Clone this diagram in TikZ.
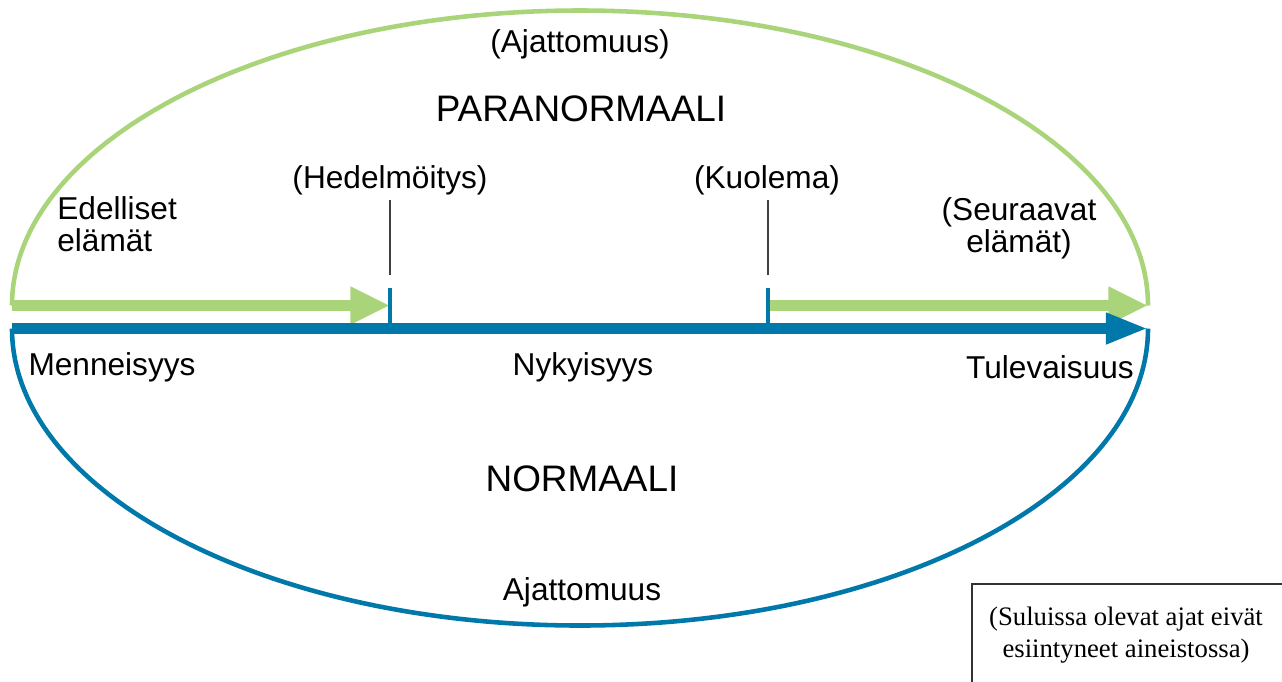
\documentclass[tikz,border=0pt]{standalone}
\usepackage{fontspec}
\setmainfont{Liberation Sans}
\newfontfamily\serifbox{Liberation Serif}
\usetikzlibrary{arrows.meta}
\definecolor{pgreen}{RGB}{169,212,122}
\definecolor{nblue}{RGB}{0,121,170}
\begin{document}
\begin{tikzpicture}[x=0.02cm,y=-0.02cm,
  lbl/.style={font=\fontsize{18}{18.3}\selectfont, inner sep=0pt},
  big/.style={font=\fontsize{21}{24}\selectfont, inner sep=0pt},
  ellarc/.style={line width=2.6pt},
  band/.style={line width=5.8pt},
  greenhead/.style={-{Triangle[length=22.5pt,width=20pt]}},
  bluehead/.style={-{Triangle[length=24pt,width=16.5pt]}},
  tick/.style={draw=nblue, line width=2pt},
  pointer/.style={draw=black!75, line width=0.6pt},
  notebox/.style={draw=black!80, line width=0.6pt}]
\useasboundingbox (0,0) rectangle (1282,681);
% named points
\coordinate (gL) at (12,305.5);
\coordinate (gR) at (1148,305.5);
\coordinate (bL) at (12,328.5);
\coordinate (bR) at (1148,328.5);
\coordinate (t1top) at (390,288);
\coordinate (t1bot) at (390,328.5);
\coordinate (t2top) at (768,288);
\coordinate (t2bot) at (768,328.5);
\coordinate (g1end) at (390,305.5);
\coordinate (g2start) at (768,305.5);
% ellipse halves
\draw[ellarc, pgreen] (gL) arc[start angle=180, end angle=360, x radius=568, y radius=295];
\draw[ellarc, nblue] (bL) arc[start angle=180, end angle=0, x radius=568, y radius=297];
% arrows
\draw[band, pgreen, greenhead] (gL) -- (g1end);
\draw[band, pgreen, greenhead] (g2start) -- (gR);
\draw[band, nblue, bluehead] (bL) -- (bR);
% ticks
\draw[tick] (t1top) -- (t1bot);
\draw[tick] (t2top) -- (t2bot);
% labels
\node[lbl] (ajat1) at (580,44) {(Ajattomuus)};
\node[big] (para) at (581,109) {PARANORMAALI};
\node[lbl] (hed) at (390,180) {(Hedelmöitys)};
\node[lbl] (kuo) at (767,180) {(Kuolema)};
\node[lbl, align=left, anchor=west] (edel) at (57,224) {Edelliset\\elämät};
\node[lbl, align=center] (seur) at (1019,228) {(Seuraavat\\elämät)};
\node[lbl] (menn) at (112,367) {Menneisyys};
\node[lbl] (nyky) at (583,367) {Nykyisyys};
\node[lbl] (tule) at (1050,367) {Tulevaisuus};
\node[big] (norm) at (582,479) {NORMAALI};
\node[lbl] (ajat2) at (582,592) {Ajattomuus};
% pointers
\coordinate (p1top) at (390,200);
\coordinate (p1bot) at (390,275);
\coordinate (p2top) at (768,200);
\coordinate (p2bot) at (768,275);
\draw[pointer] (p1top) -- (p1bot);
\draw[pointer] (p2top) -- (p2bot);
% note box
\draw[notebox] (1290,584) -- (972,584) -- (972,690);
\node[font=\serifbox\fontsize{15.2}{18.3}\selectfont, align=center, inner sep=0pt] (note) at (1126,635) {(Suluissa olevat ajat eivät\\esiintyneet aineistossa)};
\end{tikzpicture}
\end{document}
